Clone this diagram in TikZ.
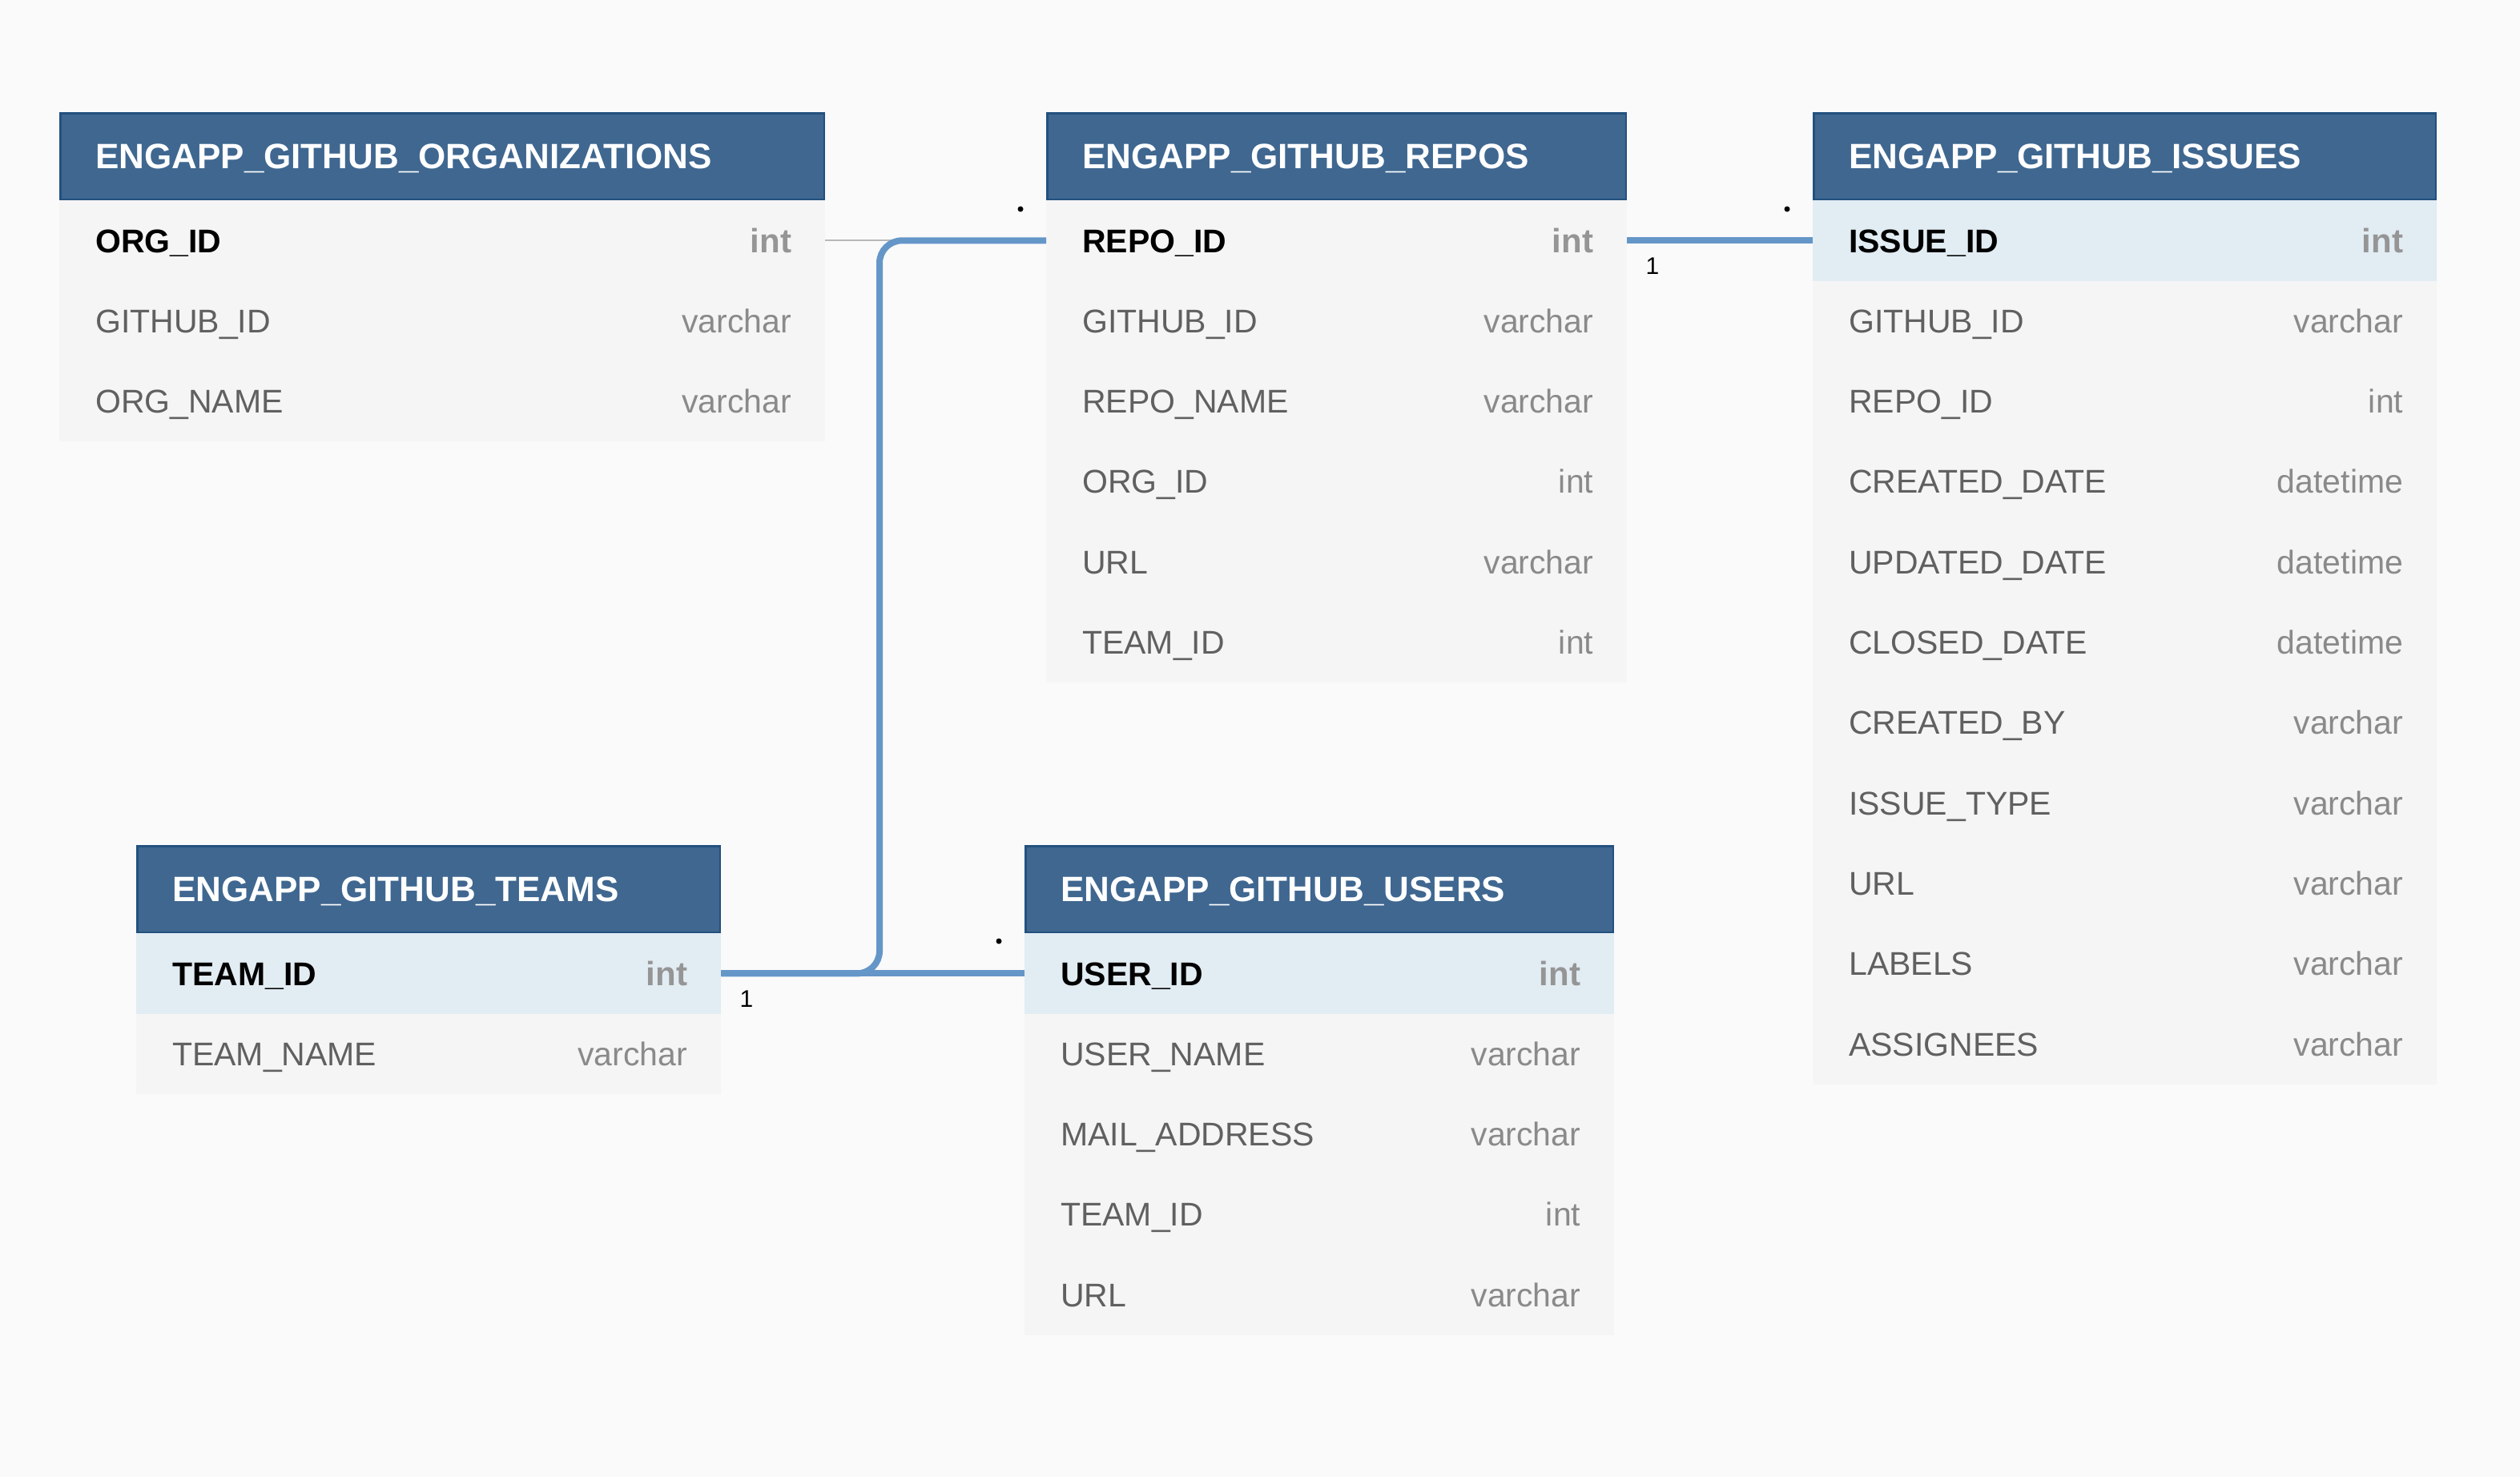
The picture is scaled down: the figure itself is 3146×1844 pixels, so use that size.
\documentclass[tikz,border=0pt]{standalone}
\usepackage{fontspec}
\setmainfont{Liberation Sans}
\definecolor{bgcol}{HTML}{FAFAFB}
\definecolor{hdrblue}{HTML}{3F6790}
\definecolor{hdrline}{HTML}{23517F}
\definecolor{rowgray}{HTML}{F5F5F5}
\definecolor{rowblue}{HTML}{E2ECF3}
\definecolor{fieldgray}{HTML}{606060}
\definecolor{typegray}{HTML}{8A8A8A}
\definecolor{keytypegray}{HTML}{959595}
\definecolor{linkblue}{HTML}{6596C8}
\definecolor{linkgray}{HTML}{B8B8B8}
\newcommand{\ersetup}[3]{\def\erL{#1}\def\erT{#2}\def\erW{#3}}
\newcommand{\erhead}[3]{% name, top, title
  \node[hdr, minimum width=\erW pt, anchor=north west] (#1) at (\erL,#2) {};
  \draw[hdrborder] ([shift={(1.25pt,-1.25pt)}]#1.north west) rectangle ([shift={(-1.25pt,1.25pt)}]#1.south east);
  \node[hdrtext] (#1-title) at ([xshift=45pt,yshift=-15.7pt]#1.west) {#3};
}
\newcommand{\errow}[6]{% table, idx, field, type, bg style, text style
  \node[rowbg, #5, minimum width=\erW pt, anchor=north west] (#1-#2) at ({\erL},{\erT+(#2-1)*100.3}) {};
  \node[fieldtext, #6] (#1-#2-name) at ([xshift=45pt,yshift=-14.7pt]#1-#2.west) {#3};
  \node[typetext, #6type] (#1-#2-type) at ([xshift=-42pt,yshift=-14.7pt]#1-#2.east) {#4};
}
\begin{document}
\begin{tikzpicture}[x=1pt,y=-1pt,
  hdr/.style={rectangle, fill=hdrblue, draw=none, minimum height=110pt, inner sep=0pt},
  hdrborder/.style={draw=hdrline, line width=2.5pt},
  hdrtext/.style={anchor=base west, inner sep=0pt, text=white, font=\fontsize{44}{50}\selectfont\bfseries},
  rowbg/.style={rectangle, draw=none, minimum height=100.3pt, inner sep=0pt},
  plain/.style={fill=rowgray},
  hl/.style={fill=rowblue},
  fieldtext/.style={anchor=base west, inner sep=0pt, font=\fontsize{41}{48}\selectfont},
  normal/.style={text=fieldgray},
  key/.style={text=black, font=\fontsize{41}{48}\selectfont\bfseries},
  typetext/.style={anchor=base east, inner sep=0pt, text=typegray, font=\fontsize{41}{48}\selectfont},
  normaltype/.style={},
  keytype/.style={text=keytypegray, font=\fontsize{42}{48}\selectfont\bfseries},
  bluelink/.style={draw=linkblue, line width=8pt},
  greylink/.style={draw=linkgray, line width=2pt},
  card/.style={inner sep=0pt, text=black, font=\fontsize{30}{34}\selectfont},
  dotmark/.style={circle, fill=black, inner sep=0pt, minimum size=7pt}
]
\useasboundingbox[fill=bgcol] (0,0) rectangle (3146,1844);

% ORGANIZATIONS
\ersetup{74}{250}{956}
\erhead{org}{140}{ENGAPP\_GITHUB\_ORGANIZATIONS}
\errow{org}{1}{ORG\_ID}{int}{plain}{key}
\errow{org}{2}{GITHUB\_ID}{varchar}{plain}{normal}
\errow{org}{3}{ORG\_NAME}{varchar}{plain}{normal}

% REPOS
\ersetup{1306}{250}{725}
\erhead{repos}{140}{ENGAPP\_GITHUB\_REPOS}
\errow{repos}{1}{REPO\_ID}{int}{plain}{key}
\errow{repos}{2}{GITHUB\_ID}{varchar}{plain}{normal}
\errow{repos}{3}{REPO\_NAME}{varchar}{plain}{normal}
\errow{repos}{4}{ORG\_ID}{int}{plain}{normal}
\errow{repos}{5}{URL}{varchar}{plain}{normal}
\errow{repos}{6}{TEAM\_ID}{int}{plain}{normal}

% ISSUES
\ersetup{2263}{250}{779}
\erhead{issues}{140}{ENGAPP\_GITHUB\_ISSUES}
\errow{issues}{1}{ISSUE\_ID}{int}{hl}{key}
\errow{issues}{2}{GITHUB\_ID}{varchar}{plain}{normal}
\errow{issues}{3}{REPO\_ID}{int}{plain}{normal}
\errow{issues}{4}{CREATED\_DATE}{datetime}{plain}{normal}
\errow{issues}{5}{UPDATED\_DATE}{datetime}{plain}{normal}
\errow{issues}{6}{CLOSED\_DATE}{datetime}{plain}{normal}
\errow{issues}{7}{CREATED\_BY}{varchar}{plain}{normal}
\errow{issues}{8}{ISSUE\_TYPE}{varchar}{plain}{normal}
\errow{issues}{9}{URL}{varchar}{plain}{normal}
\errow{issues}{10}{LABELS}{varchar}{plain}{normal}
\errow{issues}{11}{ASSIGNEES}{varchar}{plain}{normal}

% TEAMS
\ersetup{170}{1165}{730}
\erhead{teams}{1055}{ENGAPP\_GITHUB\_TEAMS}
\errow{teams}{1}{TEAM\_ID}{int}{hl}{key}
\errow{teams}{2}{TEAM\_NAME}{varchar}{plain}{normal}

% USERS
\ersetup{1279}{1165}{736}
\erhead{users}{1055}{ENGAPP\_GITHUB\_USERS}
\errow{users}{1}{USER\_ID}{int}{hl}{key}
\errow{users}{2}{USER\_NAME}{varchar}{plain}{normal}
\errow{users}{3}{MAIL\_ADDRESS}{varchar}{plain}{normal}
\errow{users}{4}{TEAM\_ID}{int}{plain}{normal}
\errow{users}{5}{URL}{varchar}{plain}{normal}

% connectors
\coordinate (bend) at (1098,750);
\draw[greylink] (org-1.east) -- (repos-1.west);
\draw[bluelink, rounded corners=28pt] (repos-1.west) -| (bend) |- (teams-1.east);
\draw[bluelink] (users-1.west) -- (teams-1.east);
\draw[bluelink] (repos-1.east) -- (issues-1.west);

% cardinality marks
\node[card] (c-teams) at (932,1247) {1};
\node[card] (c-repos) at (2063,332) {1};
\node[dotmark] (m-repos) at (1274,261) {};
\node[dotmark] (m-issues) at (2231,261) {};
\node[dotmark] (m-users) at (1247,1175) {};
\end{tikzpicture}
\end{document}
